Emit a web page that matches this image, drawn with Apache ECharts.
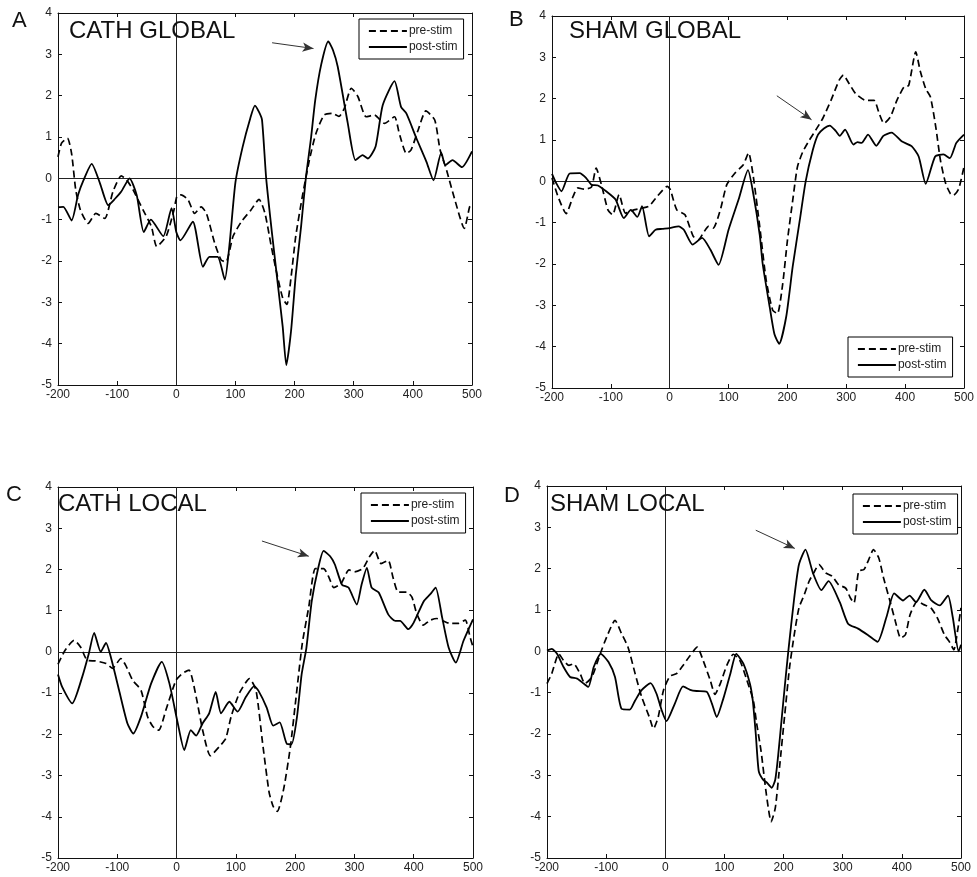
<!DOCTYPE html>
<html><head><meta charset="utf-8">
<script src="https://cdn.jsdelivr.net/npm/echarts@6/dist/echarts.min.js"></script>
<style>html,body{margin:0;padding:0;background:#fff}#c{width:977px;height:877px}</style>
</head><body><div id="c"></div>
<script>
// ---- Data (time in ms, amplitude) ----
const cathGlobalPreT  = [-200,-194,-184,-177,-170,-162,-149,-136,-121,-107,-93,-84,-73,-56,-42,-33,-17,-4,1,8,20,31,42,51,65,76,84,96,110,126,140,150,160,170,180,187,194,202,213,225,236,250,264,275,284,296,307,321,335,352,369,377,389,397,409,422,437,446,457,471,487,496,500];
const cathGlobalPreV  = [0.52,0.85,0.97,0.6,-0.28,-0.77,-1.09,-0.85,-0.97,-0.32,0.06,-0.04,-0.28,-0.77,-1.17,-1.65,-1.4,-0.77,-0.44,-0.4,-0.52,-0.85,-0.69,-0.85,-1.57,-1.98,-2.02,-1.4,-1.05,-0.77,-0.51,-0.85,-1.6,-2.3,-2.9,-3.05,-2.4,-1.4,-0.45,0.44,1.08,1.53,1.57,1.5,1.69,2.18,1.98,1.49,1.53,1.33,1.49,1.09,0.6,0.69,1.17,1.63,1.41,0.69,0.2,-0.52,-1.21,-0.69,-0.6];
const cathGlobalPostT = [-200,-191,-177,-166,-157,-143,-129,-115,-104,-93,-79,-67,-55,-43,-22,-8,0,7,28,45,56,70,82,90,100,112,125,133,140,145,152,162,174,180,186,194,202,211,219,228,235,245,257,265,273,290,303,315,324,337,349,369,380,389,406,423,435,448,455,467,483,500];
const cathGlobalPostV = [-0.7,-0.69,-1.02,-0.4,-0.05,0.35,-0.12,-0.65,-0.5,-0.32,0.0,-0.4,-1.3,-1.0,-1.4,-0.72,-1.3,-1.5,-1.05,-2.14,-1.9,-1.9,-2.45,-1.6,-0.1,0.75,1.45,1.76,1.6,1.41,0.0,-1.35,-2.85,-3.6,-4.52,-3.7,-2.34,-1.17,0.0,1.0,1.9,2.75,3.31,3.1,2.7,1.33,0.44,0.56,0.48,0.77,1.77,2.35,1.73,1.57,0.97,0.4,-0.05,0.62,0.32,0.44,0.27,0.65];

const shamGlobalPreT  = [-200,-190,-176,-164,-156,-145,-133,-125,-116,-105,-97,-86,-75,-61,-47,-35,-21,-4,1,12,26,40,49,57,66,74,86,97,111,125,134,142,153,164,175,183,192,200,209,217,226,237,248,260,274,288,295,305,316,333,347,356,364,375,386,398,406,418,426,435,443,452,460,469,477,482,491,500];
const shamGlobalPreV  = [0.08,-0.36,-0.78,-0.36,-0.16,-0.19,-0.14,0.32,-0.08,-0.69,-0.81,-0.32,-0.77,-0.69,-0.65,-0.6,-0.36,-0.12,-0.2,-0.69,-0.81,-1.33,-1.41,-1.25,-1.09,-1.13,-0.69,-0.08,0.2,0.4,0.69,0.12,-1.1,-2.4,-3.12,-3.2,-2.48,-1.43,-0.46,0.35,0.71,0.99,1.24,1.52,1.96,2.45,2.57,2.36,2.12,1.96,1.96,1.64,1.4,1.56,1.96,2.28,2.32,3.13,2.65,2.24,2.04,1.32,0.51,-0.06,-0.3,-0.34,-0.18,0.35];
const shamGlobalPostT = [-200,-193,-184,-170,-153,-142,-133,-122,-108,-92,-78,-66,-55,-47,-35,-24,-13,0,15,24,39,55,69,83,100,117,133,142,153,158,170,178,186,198,209,221,231,243,252,262,272,282,289,298,312,319,326,337,351,363,377,394,411,423,435,451,465,476,487,500];
const shamGlobalPostV = [0.18,-0.04,-0.24,0.19,0.2,0.08,-0.08,-0.1,-0.24,-0.44,-0.89,-0.69,-0.86,-0.6,-1.33,-1.17,-1.15,-1.13,-1.09,-1.17,-1.53,-1.37,-1.65,-2.02,-1.17,-0.44,0.27,-0.3,-1.3,-2.0,-3.05,-3.7,-3.93,-3.27,-2.06,-0.94,0.0,0.75,1.13,1.28,1.35,1.22,1.1,1.25,0.89,0.95,0.93,1.13,0.86,1.1,1.18,0.97,0.85,0.6,-0.06,0.6,0.65,0.56,0.93,1.13];

const cathLocalPreT   = [-200,-188,-173,-162,-151,-137,-119,-108,-94,-86,-74,-60,-49,-40,-30,-18,-1,10,21,33,44,57,72,83,92,106,123,134,145,156,163,170,181,192,200,212,223,234,248,257,265,277,291,300,314,325,334,345,357,365,374,388,397,405,416,428,439,450,461,475,487,495,500];
const cathLocalPreV   = [-0.3,0.04,0.28,0.12,-0.2,-0.22,-0.28,-0.4,-0.16,-0.32,-0.69,-0.93,-1.57,-1.81,-1.9,-1.41,-0.69,-0.52,-0.44,-1.09,-1.9,-2.52,-2.3,-2.1,-1.57,-1.0,-0.65,-0.93,-2.2,-3.4,-3.75,-3.87,-3.3,-2.3,-1.3,0.2,1.09,2.02,2.02,1.81,1.56,1.65,1.99,1.94,2.02,2.3,2.46,2.14,2.22,1.81,1.45,1.45,1.33,0.93,0.65,0.77,0.81,0.75,0.69,0.69,0.77,0.36,0.12];
const cathLocalPostT  = [-200,-193,-176,-159,-148,-139,-128,-119,-111,-97,-83,-73,-60,-43,-25,-12,2,13,24,33,44,55,66,75,89,103,117,131,138,152,163,174,186,194,203,211,219,228,239,248,259,267,279,290,304,312,321,329,341,357,369,377,391,400,417,428,437,448,459,471,484,500];
const cathLocalPostV  = [-0.55,-0.85,-1.25,-0.6,-0.04,0.46,0.0,0.22,-0.12,-0.93,-1.73,-1.98,-1.57,-0.77,-0.24,-0.77,-1.73,-2.38,-1.9,-2.03,-1.73,-1.49,-0.97,-1.49,-1.21,-1.45,-1.09,-0.83,-0.94,-1.35,-1.79,-1.71,-2.23,-2.24,-1.59,-0.54,0.1,1.23,2.04,2.45,2.32,2.12,1.63,1.56,1.15,1.63,2.04,1.56,1.44,0.91,0.75,0.75,0.55,0.71,1.23,1.4,1.56,0.83,0.1,-0.26,0.27,0.79];

const shamLocalPreT   = [-200,-192,-180,-172,-163,-155,-144,-136,-124,-110,-99,-85,-74,-63,-51,-40,-27,-20,-12,-3,8,19,30,42,54,64,76,84,93,104,115,126,138,149,154,162,171,179,186,193,202,210,218,226,235,243,251,260,271,282,293,305,313,319,327,336,344,352,361,369,380,389,398,406,414,426,437,449,460,472,480,488,494,500];
const shamLocalPreV   = [-0.78,-0.54,-0.06,-0.22,-0.34,-0.3,-0.54,-0.78,-0.62,-0.06,0.35,0.75,0.43,0.1,-0.54,-1.1,-1.59,-1.87,-1.59,-0.94,-0.6,-0.54,-0.34,-0.1,0.1,-0.22,-0.7,-1.04,-0.78,-0.34,-0.07,-0.22,-0.7,-1.2,-1.7,-2.42,-3.47,-4.12,-3.79,-2.83,-1.53,-0.4,0.4,1.05,1.37,1.69,1.9,2.1,1.9,1.82,1.61,1.53,1.29,1.17,1.94,1.98,2.22,2.46,2.26,1.78,1.21,0.73,0.32,0.4,0.89,1.21,1.13,1.05,0.81,0.4,0.24,0.04,0.48,1.05];
const shamLocalPostT  = [-200,-192,-183,-172,-161,-149,-138,-130,-121,-109,-96,-85,-74,-60,-51,-40,-25,-15,-6,2,16,30,42,53,70,79,87,98,110,120,132,143,148,153,158,165,172,180,186,191,197,202,208,218,226,237,250,264,276,295,309,326,343,359,374,387,402,413,424,438,450,464,478,486,496,500];
const shamLocalPostV  = [0.02,0.06,-0.06,-0.38,-0.62,-0.66,-0.78,-0.86,-0.38,-0.06,-0.26,-0.62,-1.39,-1.41,-1.19,-0.94,-0.77,-1.02,-1.43,-1.69,-1.27,-0.85,-0.93,-0.96,-0.98,-1.27,-1.59,-1.15,-0.54,-0.06,-0.3,-0.78,-1.2,-2.0,-2.9,-3.1,-3.18,-3.3,-3.1,-2.5,-1.6,-0.85,0.0,1.29,2.1,2.46,1.88,1.48,1.7,1.19,0.67,0.55,0.39,0.23,0.83,1.4,1.23,1.35,1.19,1.49,1.23,1.11,1.35,0.83,0.0,0.16];

// arrow annotations: [x0, y0, x1, y1] in data units
const arrowCathGlobal = [162, 3.28, 232, 3.14];
const arrowShamGlobal = [182, 2.07, 241, 1.49];
const arrowCathLocal  = [144, 2.69, 223, 2.32];
const arrowShamLocal  = [153, 2.93, 219, 2.49];

const panelTitles  = ['CATH GLOBAL', 'SHAM GLOBAL', 'CATH LOCAL', 'SHAM LOCAL'];
const panelLetters = ['A', 'B', 'C', 'D'];
const seriesNames  = ['pre-stim', 'post-stim'];
const xTicks = {min: -200, max: 500, interval: 100};
const yTicks = {min: -5, max: 4, interval: 1};

// ---- Layout ----
const panels = [
  {pre: [cathGlobalPreT, cathGlobalPreV], post: [cathGlobalPostT, cathGlobalPostV], arrow: arrowCathGlobal,
   grid: {left: 58, top: 13, width: 414, height: 372}, legend: {left: 359, top: 19},
   title: {left: 69, top: 19}, letter: {left: 12, top: 10}},
  {pre: [shamGlobalPreT, shamGlobalPreV], post: [shamGlobalPostT, shamGlobalPostV], arrow: arrowShamGlobal,
   grid: {left: 552, top: 16, width: 415, height: 372}, legend: {left: 848, top: 337},
   title: {left: 569, top: 19}, letter: {left: 509, top: 9}},
  {pre: [cathLocalPreT, cathLocalPreV], post: [cathLocalPostT, cathLocalPostV], arrow: arrowCathLocal,
   grid: {left: 58, top: 487, width: 415, height: 371}, legend: {left: 361, top: 493},
   title: {left: 58, top: 492}, letter: {left: 6, top: 484}},
  {pre: [shamLocalPreT, shamLocalPreV], post: [shamLocalPostT, shamLocalPostV], arrow: arrowShamLocal,
   grid: {left: 547, top: 486, width: 414, height: 372}, legend: {left: 853, top: 494},
   title: {left: 550, top: 492}, letter: {left: 504, top: 485}}
];

const FONT = 'Liberation Sans, Arial, Helvetica, sans-serif';
const INK = '#111';
const zip = (t, v) => t.map((x, i) => [x, v[i]]);

const option = {
  animation: false,
  backgroundColor: '#fff',
  textStyle: {fontFamily: FONT},
  grid: [], xAxis: [], yAxis: [], series: [], legend: [], title: []
};

panels.forEach((p, g) => {
  option.grid.push(Object.assign({containLabel: false}, p.grid));
  const axisLine = {show: true, onZero: false, lineStyle: {color: INK, width: 1}};
  const tick = {show: true, inside: true, length: 4, lineStyle: {color: INK, width: 1}};
  const lbl = {show: true, color: '#222', fontSize: 12, fontFamily: FONT};
  option.xAxis.push({type: 'value', gridIndex: g, position: 'bottom', min: xTicks.min, max: xTicks.max, interval: xTicks.interval,
    axisLine, axisTick: tick, splitLine: {show: false}, axisLabel: Object.assign({margin: 4}, lbl)});
  option.xAxis.push({type: 'value', gridIndex: g, position: 'top', min: xTicks.min, max: xTicks.max, interval: xTicks.interval,
    axisLine, axisTick: tick, splitLine: {show: false}, axisLabel: {show: false}});
  option.yAxis.push({type: 'value', gridIndex: g, position: 'left', min: yTicks.min, max: yTicks.max, interval: yTicks.interval,
    axisLine, axisTick: tick, splitLine: {show: false}, axisLabel: Object.assign({margin: 6}, lbl)});
  option.yAxis.push({type: 'value', gridIndex: g, position: 'right', min: yTicks.min, max: yTicks.max, interval: yTicks.interval,
    axisLine, axisTick: tick, splitLine: {show: false}, axisLabel: {show: false}});

  const a = p.arrow;
  option.series.push({
    name: seriesNames[0], type: 'line', xAxisIndex: 2 * g, yAxisIndex: 2 * g,
    data: zip(p.pre[0], p.pre[1]), symbol: 'none', smooth: 0.2, z: 3,
    lineStyle: {color: '#000', width: 1.7, type: [7, 4]}, itemStyle: {color: '#000'},
    emphasis: {disabled: true},
    markLine: {silent: true, symbol: ['none', 'none'], label: {show: false}, z: 1,
      lineStyle: {color: '#222', width: 1, type: 'solid'}, emphasis: {disabled: true},
      data: [{xAxis: 0}, {yAxis: 0}]}
  });
  option.series.push({
    name: seriesNames[1], type: 'line', xAxisIndex: 2 * g, yAxisIndex: 2 * g,
    data: zip(p.post[0], p.post[1]), symbol: 'none', smooth: 0.2, z: 4,
    lineStyle: {color: '#000', width: 1.8, type: 'solid'}, itemStyle: {color: '#000'},
    emphasis: {disabled: true},
    markLine: {silent: true, symbol: ['none', 'arrow'], symbolSize: [7, 11], label: {show: false},
      lineStyle: {color: '#333', width: 1, type: 'solid'}, emphasis: {disabled: true},
      data: [[{coord: [a[0], a[1]]}, {coord: [a[2], a[3]]}]]}
  });

  option.legend.push(Object.assign({
    orient: 'vertical', data: seriesNames, itemWidth: 38, itemHeight: 14, itemGap: 4,
    padding: [6, 6, 6, 9], backgroundColor: '#fff', borderColor: '#000', borderWidth: 1, borderRadius: 0,
    itemStyle: {opacity: 0}, lineStyle: {width: 1.8},
    selectedMode: false, textStyle: {fontSize: 12, color: '#222', fontFamily: FONT, padding: [0, 0, 0, -3]}
  }, p.legend));

  option.title.push(Object.assign({text: panelTitles[g], padding: 0,
    textStyle: {fontSize: 24, fontWeight: 'normal', color: INK, fontFamily: FONT}}, p.title));
  option.title.push(Object.assign({text: panelLetters[g], padding: 0,
    textStyle: {fontSize: 22, fontWeight: 'normal', color: INK, fontFamily: FONT}}, p.letter));
});

const chart = echarts.init(document.getElementById('c'), null, {renderer: 'canvas'});
chart.setOption(option);
</script></body></html>
